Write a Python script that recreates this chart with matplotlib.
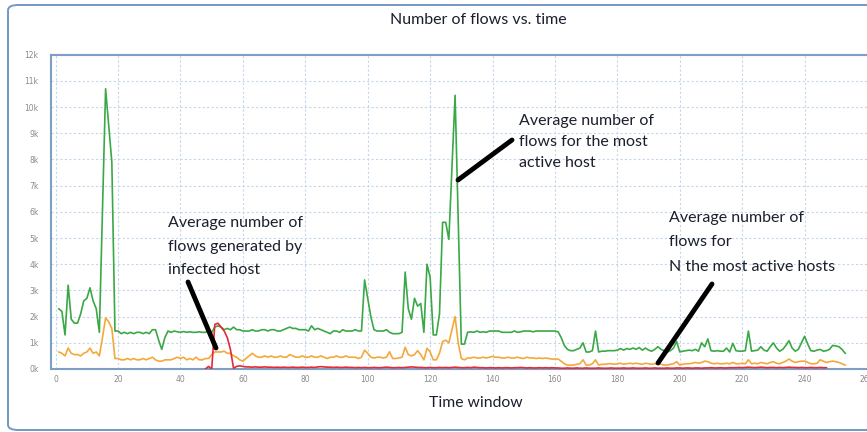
import numpy as np
import matplotlib
matplotlib.use("Agg")
import matplotlib.pyplot as plt
from matplotlib.patches import FancyBboxPatch
from matplotlib.lines import Line2D

# ---------------- data (values in thousands of flows) ----------------
green = [
    2.3, 2.2, 1.3, 3.2, 1.9, 1.75, 1.75, 2.1, 2.6, 2.7,
    3.1, 2.6, 2.3, 1.4, 6.0, 10.7, 9.3, 7.9, 1.45, 1.45,
    1.35, 1.4, 1.35, 1.4, 1.35, 1.4, 1.4, 1.35, 1.4, 1.35,
    1.5, 1.5, 1.1, 0.75, 1.2, 1.45, 1.4, 1.45, 1.42, 1.4,
    1.43, 1.4, 1.42, 1.4, 1.4, 1.42, 1.4, 1.4, 1.45, 1.4,
    1.6, 1.65, 1.6, 1.5, 1.55, 1.5, 1.6, 1.5, 1.5, 1.45,
    1.45, 1.45, 1.5, 1.45, 1.45, 1.5, 1.5, 1.45, 1.5, 1.5,
    1.45, 1.45, 1.5, 1.55, 1.6, 1.55, 1.55, 1.5, 1.5, 1.5,
    1.45, 1.65, 1.5, 1.55, 1.5, 1.45, 1.4, 1.35, 1.45, 1.45,
    1.4, 1.5, 1.45, 1.45, 1.45, 1.5, 1.45, 1.45, 3.4, 2.7,
    2.0, 1.5, 1.45, 1.45, 1.45, 1.5, 1.4, 1.35, 1.35, 1.35,
    1.4, 3.7, 2.3, 1.9, 2.7, 2.4, 2.5, 1.4, 4.0, 3.5,
    1.3, 1.3, 2.1, 5.6, 5.6, 4.95, 7.7, 10.45, 5.7, 0.95,
    0.95, 1.4, 1.42, 1.4, 1.45, 1.4, 1.42, 1.4, 1.45, 1.45,
    1.45, 1.45, 1.4, 1.4, 1.4, 1.4, 1.45, 1.4, 1.42, 1.45,
    1.45, 1.45, 1.42, 1.45, 1.45, 1.45, 1.45, 1.45, 1.45, 1.45,
    1.42, 1.2, 0.9, 0.75, 0.7, 0.7, 0.75, 0.8, 1.0, 0.65,
    0.65, 0.7, 1.45, 0.65, 0.68, 0.68, 0.7, 0.7, 0.7, 0.72,
    0.78, 0.72, 0.78, 0.75, 0.8, 0.75, 0.82, 0.72, 0.8, 0.72,
    0.68, 0.75, 0.85, 0.75, 0.7, 0.65, 0.7, 0.8, 1.05, 0.65,
    0.68, 0.7, 0.72, 0.7, 0.75, 0.68, 1.0, 0.85, 1.15, 0.7,
    0.68, 0.7, 0.68, 0.68, 0.8, 0.65, 0.98, 0.7, 0.68, 0.68,
    0.7, 1.45, 0.68, 0.7, 0.72, 0.85, 0.72, 0.68, 0.85, 1.0,
    0.8, 0.68, 0.75, 0.9, 1.08, 0.8, 0.68, 0.75, 1.0, 1.25,
    0.95, 0.7, 0.68, 0.72, 0.75, 0.68, 0.7, 0.75, 0.9, 0.88,
    0.85, 0.75, 0.6,
]

orange = [
    0.65, 0.6, 0.5, 0.8, 0.6, 0.55, 0.55, 0.5, 0.6, 0.65,
    0.8, 0.6, 0.65, 0.5, 1.2, 1.95, 1.8, 1.55, 0.4, 0.4,
    0.35, 0.35, 0.4, 0.35, 0.4, 0.35, 0.35, 0.4, 0.35, 0.4,
    0.45, 0.35, 0.3, 0.3, 0.35, 0.35, 0.35, 0.4, 0.45, 0.4,
    0.45, 0.35, 0.4, 0.35, 0.45, 0.35, 0.35, 0.4, 0.4, 0.55,
    0.65, 0.65, 0.65, 0.68, 0.6, 0.6, 0.5, 0.45, 0.35, 0.3,
    0.4, 0.5, 0.6, 0.5, 0.45, 0.45, 0.5, 0.45, 0.5, 0.45,
    0.45, 0.5, 0.45, 0.45, 0.55, 0.5, 0.45, 0.45, 0.5, 0.45,
    0.45, 0.5, 0.45, 0.45, 0.5, 0.45, 0.4, 0.45, 0.45, 0.5,
    0.45, 0.45, 0.5, 0.45, 0.45, 0.45, 0.4, 0.45, 0.72, 0.6,
    0.45, 0.42, 0.45, 0.45, 0.42, 0.45, 0.66, 0.4, 0.4, 0.42,
    0.45, 0.83, 0.55, 0.5, 0.55, 0.7, 0.55, 0.35, 0.79, 0.65,
    0.35, 0.35, 0.6, 1.05, 1.1, 1.0, 1.5, 2.0, 1.0, 0.4,
    0.35, 0.42, 0.42, 0.45, 0.42, 0.42, 0.45, 0.42, 0.45, 0.48,
    0.45, 0.45, 0.42, 0.42, 0.45, 0.42, 0.42, 0.45, 0.42, 0.4,
    0.45, 0.42, 0.42, 0.4, 0.42, 0.4, 0.42, 0.4, 0.38, 0.38,
    0.38, 0.3, 0.2, 0.15, 0.15, 0.15, 0.18, 0.2, 0.35, 0.15,
    0.15, 0.2, 0.35, 0.15, 0.18, 0.18, 0.2, 0.2, 0.18, 0.2,
    0.22, 0.18, 0.2, 0.22, 0.2, 0.22, 0.2, 0.18, 0.22, 0.2,
    0.18, 0.2, 0.22, 0.18, 0.15, 0.15, 0.18, 0.2, 0.28, 0.15,
    0.18, 0.2, 0.2, 0.22, 0.25, 0.22, 0.25, 0.3, 0.28, 0.22,
    0.2, 0.22, 0.2, 0.2, 0.22, 0.2, 0.25, 0.2, 0.2, 0.22,
    0.2, 0.35, 0.2, 0.22, 0.2, 0.25, 0.22, 0.2, 0.25, 0.28,
    0.22, 0.2, 0.25, 0.3, 0.38, 0.3, 0.25, 0.28, 0.3, 0.3,
    0.25, 0.2, 0.2, 0.22, 0.35, 0.3, 0.25, 0.28, 0.3, 0.28,
    0.25, 0.2, 0.15,
]

red_start = 48
red = [
    0.0, 0.1, 0.0, 1.7, 1.75, 1.6, 1.45, 1.2, 0.75, 0.03,
    0.1, 0.12, 0.1, 0.08, 0.08, 0.07, 0.08, 0.07, 0.07, 0.08,
    0.07, 0.07, 0.06, 0.07, 0.06, 0.07, 0.06, 0.06, 0.07, 0.06,
    0.06, 0.07, 0.06, 0.06, 0.07, 0.06, 0.08, 0.09, 0.08, 0.07,
    0.07, 0.06, 0.07, 0.06, 0.06, 0.07, 0.06, 0.06, 0.05, 0.06,
    0.05, 0.06, 0.05, 0.05, 0.06, 0.05, 0.05, 0.06, 0.07, 0.06,
    0.05, 0.05, 0.06, 0.05, 0.06, 0.07, 0.08, 0.07, 0.06, 0.06,
    0.05, 0.05, 0.06, 0.05, 0.05, 0.06, 0.05, 0.06, 0.05, 0.06,
    0.07, 0.06, 0.05, 0.05, 0.06, 0.05, 0.07, 0.06, 0.05, 0.05,
    0.04, 0.05, 0.05, 0.04, 0.05, 0.04, 0.05, 0.05, 0.04, 0.05,
    0.05, 0.06, 0.05, 0.04, 0.05, 0.04, 0.04, 0.05, 0.04, 0.05,
    0.04, 0.05, 0.04, 0.04, 0.03, 0.03, 0.04, 0.03, 0.03, 0.04,
    0.03, 0.03, 0.04, 0.03, 0.03, 0.03, 0.04, 0.03, 0.03, 0.03,
    0.04, 0.03, 0.03, 0.03, 0.04, 0.03, 0.03, 0.04, 0.03, 0.03,
    0.03, 0.04, 0.03, 0.03, 0.04, 0.03, 0.03, 0.03, 0.04, 0.03,
    0.03, 0.04, 0.04, 0.03, 0.04, 0.04, 0.03, 0.04, 0.04, 0.03,
    0.04, 0.04, 0.05, 0.04, 0.04, 0.05, 0.04, 0.04, 0.05, 0.05,
    0.05, 0.06, 0.05, 0.06, 0.07, 0.06, 0.05, 0.06, 0.07, 0.06,
    0.05, 0.06, 0.06, 0.05, 0.06, 0.05, 0.06, 0.07, 0.06, 0.06,
    0.05, 0.06, 0.05, 0.05, 0.06, 0.05, 0.05, 0.06, 0.05, 0.05,
]

x_ticks = list(range(0, 261, 20))
y_ticks = list(range(0, 13))
y_ticklabels = [f"{v}k" for v in y_ticks]

title = "Number of flows vs. time"
xlabel = "Time window"
notes = [
    ["Average number of", "flows generated by", "infected host"],
    ["Average number of", "flows for the most", "active host"],
    ["Average number of", "flows for", "N the most active hosts"],
]

# ---------------- figure ----------------
W, H = 867, 432
fig = plt.figure(figsize=(W / 100, H / 100), dpi=100)

def fx(px):
    return px / W

def fy(py):
    return 1 - py / H

# outer rounded frame
frame = FancyBboxPatch((fx(8), fy(430)), fx(880) - fx(8), fy(5) - fy(430),
                       boxstyle="round,pad=0,rounding_size=0.012",
                       transform=fig.transFigure, fill=False,
                       edgecolor="#7399c2", linewidth=1.4, zorder=0)
fig.patches.append(frame)

ax_left, ax_right = 51, 867
ax_top, ax_bot = 54.7, 369
ax = fig.add_axes([fx(ax_left), fy(ax_bot), fx(ax_right) - fx(ax_left), fy(ax_top) - fy(ax_bot)])
ax.set_facecolor("none")

gx = np.arange(1, len(green) + 1)
ox = np.arange(1, len(orange) + 1)
rx = np.arange(red_start, red_start + len(red))

ax.plot(gx, green, color="#3aa846", lw=1.2, zorder=3)
ax.plot(ox, orange, color="#f5a83a", lw=1.2, zorder=4)
ax.plot(rx, red, color="#e32a36", lw=1.2, zorder=5)

px_per_unit = 3.143
x0_px = 55.7
ax.set_xlim((ax_left - x0_px) / px_per_unit, (ax_right - x0_px) / px_per_unit)
ax.set_ylim(0, 12)
ax.set_xticks(x_ticks)
ax.set_yticks(y_ticks)
ax.set_yticklabels(y_ticklabels)
ax.tick_params(axis="both", length=0, labelsize=5.5, labelcolor="#8a8a8a", pad=4)
ax.tick_params(axis="y", pad=9)
ax.grid(True, color="#c4d6ea", linestyle=(0, (2, 2)), linewidth=0.8, zorder=1)

for side in ["left", "top", "bottom"]:
    ax.spines[side].set_color("#7d9fc6")
    ax.spines[side].set_linewidth(1.5)
ax.spines["right"].set_visible(False)

font = "Lato"
txt_color = "#1a1f2b"
fig.text(fx(478), fy(20), title, ha="center", va="center", fontsize=11.5, family=font, color=txt_color)
fig.text(fx(476), fy(403), xlabel, ha="center", va="center", fontsize=11.3, family=font, color=txt_color)

note_pos = [
    (168, [223, 247, 270]),
    (519, [121, 142, 163]),
    (669, [218, 242, 267]),
]
for lines, (nx, ys) in zip(notes, note_pos):
    for ln, yy in zip(lines, ys):
        fig.text(fx(nx), fy(yy), ln, ha="left", va="center", fontsize=11.5, family=font, color=txt_color)

pointers = [
    ((188, 282), (216, 348)),
    ((512, 140), (458, 180)),
    ((712, 284), (658, 363)),
]
for (x1, y1), (x2, y2) in pointers:
    fig.add_artist(Line2D([fx(x1), fx(x2)], [fy(y1), fy(y2)], transform=fig.transFigure,
                          color="black", lw=3.5, solid_capstyle="round", zorder=10))

fig.savefig("out.png", dpi=100)
